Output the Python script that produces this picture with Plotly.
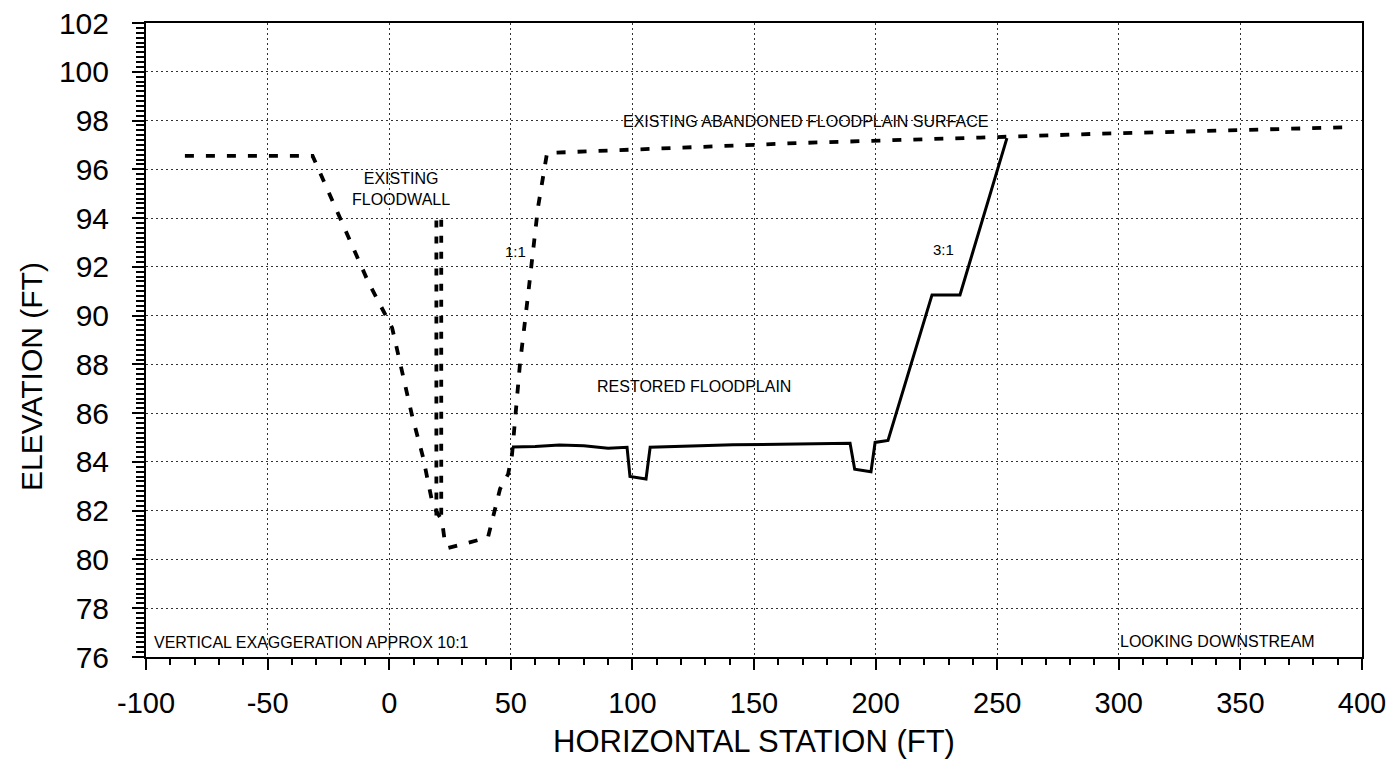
import plotly.graph_objects as go

# ---- data ----
ground_x = [-84, -31.5, -20.2, -8.7, 1.2, 5.3, 9.4, 13.9, 18.0, 21.7, 22.9, 24.2,
            40.6, 45.6, 48.9, 50.5, 53.8, 57.0, 59.1, 61.2, 64.9, 169, 243, 289, 396]
ground_y = [96.55, 96.55, 94.0, 91.4, 89.5, 87.7, 85.9, 84.2, 82.2, 81.6, 80.7, 80.47,
            80.9, 82.9, 83.5, 84.3, 88.05, 90.76, 92.6, 94.45, 96.67, 97.08, 97.3, 97.45, 97.73]

wall_x = [19.4, 19.4, 21.4, 21.4]
wall_y = [81.8, 94.0, 94.0, 81.6]

restored_x = [50.5, 60, 70, 80, 90, 97.8, 99.0, 105.6, 107.3, 141.4, 189.5, 191.4,
              198.1, 199.8, 205.1, 223.2, 234.7, 254]
restored_y = [84.61, 84.63, 84.69, 84.66, 84.56, 84.6, 83.4, 83.3, 84.6, 84.7, 84.77, 83.7,
              83.6, 84.8, 84.88, 90.85, 90.85, 97.28]

x_ticks = [-100, -50, 0, 50, 100, 150, 200, 250, 300, 350, 400]
x_labels = ["-100", "-50", "0", "50", "100", "150", "200", "250", "300", "350", "400"]
y_ticks = list(range(76, 103, 2))
y_labels = [str(v) for v in y_ticks]

labels = [
    ("EXISTING<br>FLOODWALL", 4.9, 95.2, "center", 16),
    ("1:1", 52.1, 92.65, "center", 15),
    ("3:1", 228.0, 92.7, "center", 15),
    ("RESTORED FLOODPLAIN", 125.5, 87.1, "center", 16),
    ("EXISTING ABANDONED FLOODPLAIN SURFACE", 171.2, 97.95, "center", 16),
    ("VERTICAL EXAGGERATION APPROX 10:1", -97.5, 76.6, "left", 16),
    ("LOOKING DOWNSTREAM", 299.7, 76.65, "left", 16),
]

FONT = "Liberation Sans, Arial, Helvetica, sans-serif"
DASH = "9px,12px"

W, H = 1397, 780
L, T, PW, PH = 138, 15, 1216, 634   # page body adds an 8px offset

fig = go.Figure()
fig.add_trace(go.Scatter(x=ground_x, y=ground_y, mode="lines",
                         line=dict(color="black", width=3.8, dash=DASH),
                         showlegend=False, hoverinfo="skip"))
fig.add_trace(go.Scatter(x=wall_x, y=wall_y, mode="lines",
                         line=dict(color="black", width=3.8, dash="7px,9px"),
                         showlegend=False, hoverinfo="skip"))
fig.add_trace(go.Scatter(x=restored_x, y=restored_y, mode="lines",
                         line=dict(color="black", width=3),
                         showlegend=False, hoverinfo="skip"))

for text, x, y, anchor, size in labels:
    fig.add_annotation(x=x, y=y, text=text, showarrow=False, xanchor=anchor,
                       yanchor="middle", font=dict(family=FONT, size=size, color="black"))

fig.add_annotation(xref="paper", yref="paper", x=(31 - 146) / PW, y=(657 - 377) / PH,
                   xanchor="center", yanchor="middle",
                   text="ELEVATION (FT)", textangle=-90, showarrow=False,
                   font=dict(family=FONT, size=30, color="black"))

grid = dict(showgrid=True, gridcolor="#333", griddash="1.5px,3.5px", gridwidth=1.2)

fig.update_layout(
    width=W, height=H,
    margin=dict(l=L, r=W - L - PW, t=T, b=H - T - PH),
    paper_bgcolor="white", plot_bgcolor="white",
    font=dict(family=FONT, color="black"),
    xaxis=dict(range=[-100, 400], tickmode="array", tickvals=x_ticks, ticktext=x_labels,
               ticks="outside", ticklen=11, tickwidth=2, tickcolor="black",
               showline=True, linecolor="black", linewidth=2, mirror=True,
               tickfont=dict(size=29, family=FONT), ticklabelstandoff=8,
               ticklabeloverflow="allow",
               minor=dict(tickmode="linear", tick0=-100, dtick=10, ticks="outside",
                          ticklen=6, tickwidth=1.5, tickcolor="black", showgrid=False),
               title=dict(text="HORIZONTAL STATION (FT)", font=dict(size=31, family=FONT),
                          standoff=13),
               automargin=False, zeroline=False, **grid),
    yaxis=dict(range=[76, 102], tickmode="array", tickvals=y_ticks, ticktext=y_labels,
               ticks="outside", ticklen=12, tickwidth=2, tickcolor="black",
               showline=True, linecolor="black", linewidth=2, mirror=True,
               tickfont=dict(size=30, family=FONT), ticklabelstandoff=17,
               ticklabeloverflow="allow",
               minor=dict(tickmode="linear", tick0=76, dtick=0.2, ticks="outside",
                          ticklen=8, tickwidth=1.5, tickcolor="black", showgrid=False),
               automargin=False, zeroline=False, **grid),
)

fig.write_html("out.html")
